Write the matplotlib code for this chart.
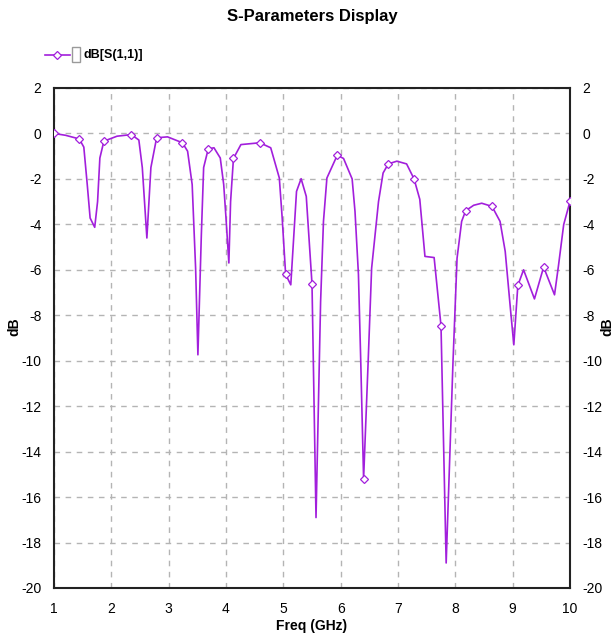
import matplotlib
matplotlib.use("Agg")
import matplotlib.pyplot as plt
from matplotlib.lines import Line2D
from matplotlib.patches import Rectangle
import numpy as np

# ---- data ----
freq_ghz = [1.00, 1.20, 1.44, 1.52, 1.58, 1.63, 1.71, 1.76, 1.80, 1.87,
            2.10, 2.35, 2.48, 2.54, 2.62, 2.69, 2.79, 2.98, 3.24, 3.33,
            3.41, 3.47, 3.51, 3.57, 3.61, 3.69, 3.79, 3.90, 3.96, 4.00,
            4.05, 4.08, 4.13, 4.26, 4.59, 4.78, 4.93, 4.98, 5.04, 5.13,
            5.23, 5.31, 5.40, 5.50, 5.57, 5.65, 5.70, 5.76, 5.94, 6.05,
            6.20, 6.25, 6.31, 6.35, 6.40, 6.48, 6.54, 6.66, 6.74, 6.83,
            6.98, 7.15, 7.28, 7.38, 7.47, 7.63, 7.75, 7.84, 7.96, 8.03,
            8.11, 8.18, 8.32, 8.46, 8.64, 8.78, 8.87, 8.96, 9.02, 9.09,
            9.19, 9.38, 9.54, 9.73, 9.80, 9.89, 10.00]
s11_db = [0.00, -0.08, -0.24, -0.60, -2.25, -3.72, -4.13, -3.00, -1.08, -0.34,
          -0.12, -0.05, -0.29, -1.50, -4.60, -1.50, -0.19, -0.15, -0.41, -0.78,
          -2.25, -5.93, -9.74, -4.45, -1.50, -0.68, -0.63, -1.08, -2.25, -3.72,
          -5.70, -3.00, -1.10, -0.49, -0.41, -0.63, -1.96, -3.72, -6.20, -6.66,
          -2.55, -1.99, -2.77, -6.62, -16.90, -7.40, -3.87, -1.96, -0.96, -1.10,
          -2.00, -3.43, -6.20, -10.00, -15.20, -10.00, -5.93, -3.00, -1.74, -1.34,
          -1.22, -1.34, -2.00, -2.90, -5.41, -5.46, -8.46, -18.90, -10.00, -5.49,
          -3.87, -3.40, -3.16, -3.07, -3.21, -3.87, -5.19, -7.69, -9.30, -6.69,
          -6.00, -7.28, -5.88, -7.10, -5.80, -4.01, -2.99]
marker_freqs = [1.00, 1.44, 1.87, 2.35, 2.79, 3.24, 3.69, 4.13, 4.59, 5.04,
                5.50, 5.94, 6.40, 6.83, 7.28, 7.75, 8.18, 8.64, 9.09, 9.54, 10.00]
x_ticks = [1, 2, 3, 4, 5, 6, 7, 8, 9, 10]
y_ticks = [2, 0, -2, -4, -6, -8, -10, -12, -14, -16, -18, -20]
series_name = "dB[S(1,1)]"
title = "S-Parameters Display"
x_label = "Freq (GHz)"
y_label = "dB"

plt.rcParams["axes.unicode_minus"] = False
LINE_COLOR = "#a21fdc"
FONT = ["Liberation Sans", "DejaVu Sans"]

W, H = 615, 640
fig = plt.figure(figsize=(W / 100, H / 100), dpi=100)
ax = fig.add_axes([54 / W, 1 - 588 / H, (570 - 54) / W, (588 - 88) / H])

mark_idx = [int(np.argmin(np.abs(np.array(freq_ghz) - f))) for f in marker_freqs]
ax.plot(freq_ghz, s11_db, color=LINE_COLOR, lw=1.2, marker="D", ms=4.5,
        mfc="white", mec=LINE_COLOR, mew=0.9, markevery=mark_idx, zorder=3)

ax.set_xlim(1, 10)
ax.set_ylim(-20, 2)
ax.set_xticks(x_ticks)
ax.set_yticks(y_ticks)
ax.grid(True, color="#b4b4b4", ls=(0, (4, 4)), lw=1.0)
for sp in ax.spines.values():
    sp.set_color("#222222")
    sp.set_linewidth(1.5)

ax.tick_params(axis="both", length=0, labelsize=10)
ax.tick_params(axis="x", pad=10)
ax.tick_params(axis="y", pad=9, labelright=True, right=True)
for lab in ax.get_xticklabels() + ax.get_yticklabels():
    lab.set_family(FONT)

ax.set_xlabel(x_label, fontsize=10, fontweight="bold", family=FONT, labelpad=2)
fig.text(14 / W, 1 - 327 / H, y_label, rotation=90, fontsize=10,
         fontweight="bold", family=FONT, ha="center", va="center")
fig.text(607 / W, 1 - 327 / H, y_label, rotation=90, fontsize=10,
         fontweight="bold", family=FONT, ha="center", va="center")

fig.text(312 / W, 1 - 17 / H, title, fontsize=12, fontweight="bold",
         family=FONT, ha="center", va="center")

# legend drawn in figure coordinates
ly = 1 - 55 / H
fig.add_artist(Line2D([45 / W, 70 / W], [ly, ly], color=LINE_COLOR, lw=1.2,
                      transform=fig.transFigure))
fig.add_artist(Line2D([57 / W], [ly], color=LINE_COLOR, marker="D", ms=4.5,
                      mfc="white", mec=LINE_COLOR, mew=0.9, transform=fig.transFigure))
fig.add_artist(Rectangle((72 / W, 1 - 62 / H), 8 / W, 15 / H, transform=fig.transFigure,
                         facecolor="white", edgecolor="#9a9a9a", lw=1.0))
fig.text(83 / W, ly, series_name, fontsize=9, fontweight="bold", family=FONT,
         ha="left", va="center")

fig.savefig("out.png", dpi=100)
